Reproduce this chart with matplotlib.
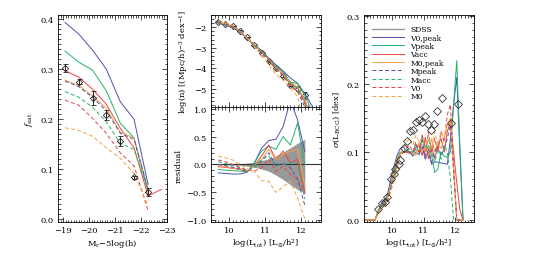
import numpy as np
import matplotlib
matplotlib.use("Agg")
import matplotlib.pyplot as plt
from matplotlib.ticker import MultipleLocator

plt.rcParams['font.family'] = ['DejaVu Serif']
plt.rcParams['mathtext.fontset'] = 'dejavuserif'
plt.rcParams['font.size'] = 6
plt.rcParams['axes.linewidth'] = 0.6

names = ['SDSS', 'V0,peak', 'Vpeak', 'Vacc', 'M0,peak', 'Mpeak', 'Macc', 'V0', 'M0']
colors = ['#4f4fb5', '#22b36b', '#e84545', '#f5a347', '#4f4fb5', '#22b36b', '#e84545', '#f5a347']
styles = ['-', '-', '-', '-', '--', '--', '--', '--']

# ---- left panel: satellite fraction vs magnitude
mag = [-19.07, -19.6, -20.13, -20.66, -21.2, -21.73, -22.27]
fsat_sdss = [0.302, 0.275, 0.243, 0.208, 0.157, 0.084, 0.054]
fsat_err = [0.008, 0.005, 0.014, 0.010, 0.010, 0.003, 0.008]
fsat_models = [
    [0.393, 0.370, 0.338, 0.300, 0.235, 0.200, 0.070],   # V0,peak
    [0.336, 0.314, 0.298, 0.257, 0.192, 0.163, 0.060],   # Vpeak
    [0.297, 0.284, 0.260, 0.230, 0.182, 0.143, 0.047],   # Vacc
    [0.278, 0.267, 0.247, 0.222, 0.174, 0.163, 0.052],   # M0,peak
    [0.276, 0.265, 0.244, 0.217, 0.172, 0.160, 0.058],   # Mpeak
    [0.255, 0.244, 0.224, 0.195, 0.152, 0.140, 0.060],   # Macc
    [0.238, 0.228, 0.202, 0.172, 0.133, 0.107, 0.018],   # V0
    [0.183, 0.178, 0.166, 0.143, 0.122, 0.092, 0.028],   # M0
]
vacc_tail_mag = [-22.27, -22.78]
vacc_tail_f = [0.047, 0.060]

# ---- middle panel: luminosity function and residuals
logL = [9.7, 9.9, 10.1, 10.3, 10.5, 10.7, 10.9, 11.1, 11.3, 11.5, 11.7, 11.9, 12.1]
logn_sdss = [-1.73, -1.83, -1.94, -2.16, -2.48, -2.88, -3.24, -3.67, -4.0, -4.36, -4.81, -5.0, -5.33]
logn_err = [0.02, 0.02, 0.02, 0.02, 0.02, 0.03, 0.03, 0.04, 0.05, 0.06, 0.08, 0.12, 0.16]
resid = [
    [-0.15, -0.16, -0.17, -0.17, -0.14, 0.02, 0.29, 0.43, 0.45, 0.68, 1.15, 0.80, 0.23],
    [-0.09, -0.10, -0.11, -0.12, -0.13, 0.03, 0.24, 0.33, 0.27, 0.50, 0.35, 0.74, 0.00],
    [-0.04, -0.05, -0.07, -0.09, -0.12, -0.02, 0.15, 0.35, 0.09, 0.24, 0.03, 0.09, -0.50],
    [-0.02, -0.04, -0.06, -0.08, -0.11, -0.02, 0.09, 0.27, 0.09, 0.18, 0.24, 0.27, -0.38],
    [0.00, -0.02, -0.05, -0.08, -0.12, -0.03, 0.06, 0.21, -0.03, 0.03, -0.06, -0.26, -0.73],
    [0.05, 0.02, -0.02, -0.06, -0.11, -0.06, 0.09, 0.15, -0.03, 0.00, 0.03, 0.03, -0.62],
    [0.08, 0.05, 0.00, -0.05, -0.10, -0.12, -0.06, 0.09, -0.12, -0.03, -0.18, -0.26, -0.53],
    [0.15, 0.12, 0.08, 0.00, -0.08, -0.12, -0.29, -0.30, -0.50, -0.40, -0.30, -0.60, -0.97],
]
tail_logL = 12.32
tail_logn = [-5.9, -6.2, -6.5, -6.5, -6.5, -6.5, -6.5, -6.5]
band_hi = [0.0, 0.005, 0.01, 0.015, 0.025, 0.04, 0.07, 0.10, 0.15, 0.22, 0.30, 0.38, 0.45]
band_lo = [0.0, -0.005, -0.01, -0.015, -0.03, -0.05, -0.08, -0.12, -0.19, -0.27, -0.36, -0.45, -0.50]

# ---- right panel: BCG scatter
logL_sig = [9.15, 9.25, 9.35, 9.45, 9.55, 9.65, 9.75, 9.85, 9.95, 10.05, 10.15, 10.25, 10.35, 10.45,
            10.55, 10.65, 10.75, 10.85, 10.95, 11.05, 11.15, 11.25, 11.35, 11.45, 11.55, 11.65,
            11.75, 11.85, 11.95, 12.05, 12.15, 12.25]
sig_models = [
    [0, 0, 0, 0, 0.013, 0.024, 0.028, 0.038, 0.060, 0.078, 0.095, 0.105, 0.108, 0.100, 0.100, 0.094,
     0.100, 0.096, 0.108, 0.090, 0.100, 0.082, 0.086, 0.085, 0.084, 0.083, 0.082, 0.120, 0.170, 0.210, 0.100, 0.0],
    [0, 0, 0, 0, 0.012, 0.022, 0.026, 0.034, 0.052, 0.072, 0.090, 0.100, 0.100, 0.103, 0.100, 0.097,
     0.104, 0.100, 0.120, 0.100, 0.110, 0.095, 0.070, 0.075, 0.100, 0.094, 0.092, 0.100, 0.170, 0.235, 0.110, 0.0],
    [0, 0, 0, 0, 0.012, 0.022, 0.025, 0.032, 0.050, 0.068, 0.085, 0.098, 0.100, 0.100, 0.098, 0.100,
     0.107, 0.110, 0.095, 0.122, 0.090, 0.108, 0.090, 0.110, 0.120, 0.100, 0.130, 0.145, 0.100, 0.055, 0.015, 0.0],
    [0, 0, 0, 0, 0.012, 0.022, 0.025, 0.033, 0.050, 0.067, 0.085, 0.097, 0.100, 0.102, 0.100, 0.100,
     0.095, 0.115, 0.100, 0.110, 0.095, 0.120, 0.100, 0.115, 0.105, 0.120, 0.140, 0.150, 0.080, 0.0, 0.0, 0.0],
    [0, 0, 0, 0, 0.012, 0.020, 0.024, 0.030, 0.046, 0.062, 0.082, 0.095, 0.100, 0.102, 0.100, 0.100,
     0.110, 0.100, 0.118, 0.090, 0.105, 0.085, 0.100, 0.110, 0.095, 0.105, 0.120, 0.140, 0.070, 0.0, 0.0, 0.0],
    [0, 0, 0, 0, 0.012, 0.020, 0.024, 0.030, 0.046, 0.062, 0.080, 0.095, 0.100, 0.100, 0.105, 0.100,
     0.112, 0.100, 0.125, 0.105, 0.120, 0.100, 0.085, 0.105, 0.090, 0.110, 0.100, 0.060, 0.0, 0.0, 0.0, 0.0],
    [0, 0, 0, 0, 0.010, 0.018, 0.022, 0.028, 0.044, 0.060, 0.078, 0.094, 0.100, 0.106, 0.110, 0.100,
     0.115, 0.100, 0.125, 0.095, 0.130, 0.100, 0.120, 0.100, 0.130, 0.115, 0.155, 0.170, 0.080, 0.0, 0.0, 0.0],
    [0, 0, 0, 0, 0.010, 0.017, 0.021, 0.027, 0.042, 0.058, 0.078, 0.095, 0.105, 0.115, 0.120, 0.110,
     0.125, 0.115, 0.120, 0.100, 0.125, 0.105, 0.130, 0.110, 0.130, 0.120, 0.140, 0.150, 0.070, 0.0, 0.0, 0.0],
]
logL_bcg = [9.55, 9.68, 9.78, 9.84, 9.97, 10.04, 10.09, 10.2, 10.26, 10.36, 10.46, 10.57, 10.65, 10.75,
            10.86, 10.94, 11.05, 11.12, 11.22, 11.33, 11.43, 11.59, 11.87, 12.08]
sig_bcg = [0.016, 0.025, 0.026, 0.034, 0.060, 0.067, 0.075, 0.082, 0.089, 0.106, 0.116, 0.131, 0.133, 0.144,
           0.148, 0.145, 0.153, 0.141, 0.133, 0.142, 0.160, 0.179, 0.143, 0.171]


def idl_ticks(ax, xmin, ymin, xmaj=None, ymaj=None):
    ax.tick_params(which='both', direction='in', top=True, right=True, width=0.5, pad=3)
    ax.tick_params(which='major', length=3.5)
    ax.tick_params(which='minor', length=1.8)
    ax.xaxis.set_minor_locator(MultipleLocator(xmin))
    ax.yaxis.set_minor_locator(MultipleLocator(ymin))
    if xmaj:
        ax.xaxis.set_major_locator(MultipleLocator(xmaj))
    if ymaj:
        ax.yaxis.set_major_locator(MultipleLocator(ymaj))


fig = plt.figure(figsize=(5.38, 2.55), dpi=100)
lw = 0.7
dash = (0, (4, 2.5))

# left
ax1 = fig.add_axes([0.1078, 0.1255, 0.2026, 0.8118])
for i, ys in enumerate(fsat_models):
    ax1.plot(mag, ys, color=colors[i], lw=lw, ls='-' if styles[i] == '-' else dash)
ax1.plot(vacc_tail_mag, vacc_tail_f, color=colors[2], lw=lw)
ax1.errorbar(mag, fsat_sdss, yerr=fsat_err, fmt='D', ms=3.2, mfc='none', mec='#222222', mew=0.6,
             ecolor='#222222', elinewidth=0.7, capsize=1.8, capthick=0.6, zorder=5)
ax1.set_xlim(-18.8, -23.0)
ax1.set_ylim(-0.005, 0.408)
idl_ticks(ax1, 0.1, 0.01, 1, 0.1)
ax1.set_xticks([-19, -20, -21, -22, -23])
ax1.set_xticklabels(['\u221219', '\u221220', '\u221221', '\u221222', '\u221223'])
ax1.set_yticks([0.0, 0.1, 0.2, 0.3, 0.4])
ax1.set_xlabel(r'M$_{\rm r}$$-$5log(h)', labelpad=2)
ax1.set_ylabel(r'$f_{\rm sat}$', labelpad=4)

# middle upper
ax2 = fig.add_axes([0.3922, 0.5765, 0.2045, 0.3608])
for i, r in enumerate(resid):
    r = np.array(r)
    model = np.array(logn_sdss) + np.log10(np.clip(1 + r, 1e-3, None))
    xs = list(logL) + [tail_logL]
    ys = list(model) + [tail_logn[i]]
    ax2.plot(xs, ys, color=colors[i], lw=lw, ls='-' if styles[i] == '-' else dash)
ax2.errorbar(logL, logn_sdss, yerr=logn_err, fmt='D', ms=3.2, mfc='none', mec='#222222', mew=0.6,
             ecolor='#222222', elinewidth=0.6, capsize=1.5, capthick=0.5, zorder=1)
ax2.set_xlim(9.5, 12.55)
ax2.set_ylim(-5.9, -1.4)
idl_ticks(ax2, 0.1, 0.2, 1, 1)
ax2.set_xticks([10, 11, 12])
ax2.set_xticklabels([])
ax2.set_yticks([-2, -3, -4, -5])
ax2.set_yticklabels(['\u22122', '\u22123', '\u22124', '\u22125'])
ax2.set_ylabel(r'log(n) [(Mpc/h)$^{-3}$ dex$^{-1}$]', labelpad=3)

# middle lower
ax3 = fig.add_axes([0.3922, 0.1255, 0.2045, 0.451])
ax3.fill_between(logL, band_lo, band_hi, color='#999999', lw=0)
ax3.axhline(0, color='#333333', lw=0.8)
for i, r in enumerate(resid):
    ax3.plot(logL, r, color=colors[i], lw=lw, ls='-' if styles[i] == '-' else dash)
ax3.set_xlim(9.5, 12.55)
ax3.set_ylim(-1.03, 1.03)
idl_ticks(ax3, 0.1, 0.1, 1, 0.5)
ax3.set_xticks([10, 11, 12])
ax3.set_yticks([-1.0, -0.5, 0.0, 0.5, 1.0])
ax3.set_yticklabels(['\u22121.0', '\u22120.5', '0.0', '0.5', '1.0'])
ax3.set_xlabel(r'log(L$_{\rm tot}$) [L$_{\odot}$/h$^2$]', labelpad=2)
ax3.set_ylabel('residual', labelpad=3)

# right
ax4 = fig.add_axes([0.6766, 0.1255, 0.2045, 0.8118])
ax4.plot([], [], color='#999999', lw=1.0, label=names[0])
for i, ys in enumerate(sig_models):
    ax4.plot(logL_sig, ys, color=colors[i], lw=lw, ls='-' if styles[i] == '-' else dash,
             label=names[i + 1])
ax4.plot(logL_bcg, sig_bcg, 'D', ms=3.6, mfc='none', mec='#333333', mew=0.6, zorder=5)
ax4.set_xlim(9.1, 12.6)
ax4.set_ylim(-0.003, 0.302)
idl_ticks(ax4, 0.1, 0.01, 1, 0.1)
ax4.set_xticks([10, 11, 12])
ax4.set_yticks([0.0, 0.1, 0.2, 0.3])
ax4.set_xlabel(r'log(L$_{\rm tot}$) [L$_{\odot}$/h$^2$]', labelpad=2)
ax4.set_ylabel(r'$\sigma$(L$_{\rm BCG}$) [dex]', labelpad=3)
ax4.legend(loc='upper left', bbox_to_anchor=(0.02, 0.98), frameon=False, fontsize=5.5,
           handlelength=4.2, labelspacing=0.05, handletextpad=0.8, borderpad=0.3)

fig.savefig('out.png', dpi=100)
